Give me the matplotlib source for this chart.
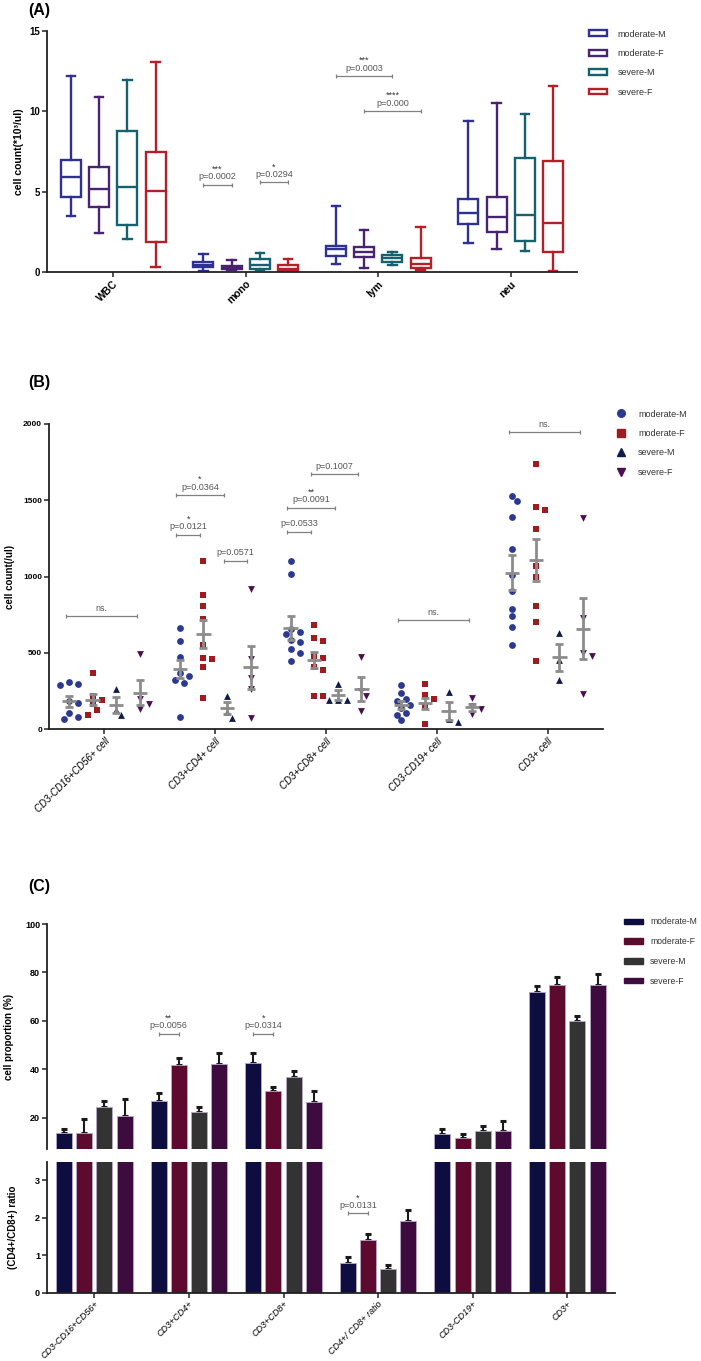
import matplotlib
matplotlib.use('Agg')
import matplotlib.pyplot as plt
from matplotlib.patches import Patch
from matplotlib.lines import Line2D
import numpy as np

plt.rcParams['font.family'] = ['Liberation Sans', 'DejaVu Sans']

W, H = 701, 1361
groups = ['moderate-M', 'moderate-F', 'severe-M', 'severe-F']
offsets = [-0.32, -0.107, 0.107, 0.32]

# ---------------- Panel A data (box plots) ----------------
a_categories = ['WBC', 'mono', 'lym', 'neu']
a_whislo = [[3.50, 0.08, 0.50, 1.79], [2.42, 0.10, 0.23, 1.42],
            [2.08, 0.10, 0.42, 1.33], [0.33, 0.02, 0.12, 0.08]]
a_q1 = [[4.69, 0.30, 1.02, 3.00], [4.02, 0.20, 0.92, 2.48],
        [2.90, 0.20, 0.63, 1.92], [1.88, 0.05, 0.27, 1.25]]
a_med = [[5.90, 0.45, 1.42, 3.65], [5.17, 0.33, 1.27, 3.40],
         [5.27, 0.44, 0.85, 3.56], [5.02, 0.17, 0.48, 3.04]]
a_q3 = [[7.00, 0.62, 1.63, 4.52], [6.54, 0.40, 1.56, 4.69],
        [8.79, 0.80, 1.06, 7.08], [7.50, 0.42, 0.90, 6.92]]
a_whishi = [[12.19, 1.13, 4.08, 9.40], [10.90, 0.77, 2.63, 10.50],
            [11.94, 1.17, 1.25, 9.85], [13.10, 0.83, 2.81, 11.56]]
a_colors = ['#2e3192', '#4a2370', '#17606e', '#b3202a']
a_brackets = [(1, 0, 1, 5.44, 'p=0.0002', '***'),
              (1, 2, 3, 5.58, 'p=0.0294', '*'),
              (2, 0, 2, 12.2, 'p=0.0003', '***'),
              (2, 1, 3, 10.0, 'p=0.000', '****')]

# ---------------- Panel B data (scatter + mean/SEM) ----------------
b_categories = ['CD3-CD16+CD56+ cell', 'CD3+CD4+ cell', 'CD3+CD8+ cell',
                'CD3-CD19+ cell', 'CD3+ cell']
b_moderate_m = [[311, 300, 290, 185, 170, 107, 83, 66],
                [662, 581, 471, 366, 351, 325, 303, 83],
                [1100, 1015, 660, 640, 625, 585, 570, 525, 500, 450],
                [290, 240, 200, 185, 160, 140, 105, 95, 60],
                [1530, 1493, 1388, 1181, 1012, 909, 791, 743, 673, 551]]
b_moderate_f = [[366, 215, 190, 165, 127, 94],
                [1100, 880, 810, 725, 555, 470, 460, 410, 205],
                [680, 599, 577, 482, 465, 408, 386, 221, 219],
                [297, 225, 197, 153, 35],
                [1738, 1456, 1438, 1314, 1073, 999, 809, 704, 446]]
b_severe_m = [[263, 127, 92],
              [219, 112, 72],
              [298, 195, 192, 190],
              [247, 68, 50],
              [634, 455, 323]]
b_severe_f = [[496, 197, 167, 136],
              [921, 460, 335, 263, 72],
              [474, 254, 219, 121],
              [207, 155, 131, 100],
              [1382, 728, 499, 481, 232]]
b_mean = [[184, 395, 664, 159, 1027], [193, 625, 452, 170, 1109],
          [162, 138, 226, 122, 472], [241, 406, 265, 145, 660]]
b_sem = [[35, 57, 79, 28, 112], [37, 93, 52, 35, 137],
         [52, 40, 33, 60, 88], [85, 140, 78, 22, 198]]
b_colors = ['#2b3990', '#9e1b20', '#0f1c4d', '#4b0f4f']
b_markers = ['o', 's', '^', 'v']
b_brackets = [(0, 0, 3, 741, 'ns.', ''),
              (1, 0, 1, 1275, 'p=0.0121', '*'),
              (1, 0, 2, 1535, 'p=0.0364', '*'),
              (1, 2, 3, 1104, 'p=0.0571', ''),
              (2, 0, 1, 1294, 'p=0.0533', ''),
              (2, 0, 2, 1452, 'p=0.0091', '**'),
              (2, 1, 3, 1670, 'p=0.1007', ''),
              (3, 0, 3, 715, 'ns.', ''),
              (4, 0, 3, 1946, 'ns.', '')]

# ---------------- Panel C data (bars, broken axis) ----------------
c_categories = ['CD3-CD16+CD56+', 'CD3+CD4+', 'CD3+CD8+', 'CD4+/ CD8+ ratio',
                'CD3-CD19+', 'CD3+']
c_mean = [[13.5, 26.8, 42.5, 0.79, 13.4, 71.8],
          [13.7, 41.9, 30.9, 1.41, 11.7, 74.8],
          [24.6, 22.4, 36.7, 0.63, 14.5, 59.9],
          [20.6, 42.2, 26.6, 1.92, 14.5, 74.9]]
c_err = [[1.9, 3.6, 4.2, 0.17, 1.9, 2.7],
         [5.6, 2.9, 1.8, 0.15, 1.4, 3.3],
         [2.3, 2.2, 2.6, 0.10, 2.1, 2.2],
         [7.3, 4.6, 4.4, 0.30, 4.1, 4.6]]
c_colors = ['#0d0e3f', '#5e0a2f', '#333333', '#3e0b3e']
c_brackets_top = [(1, 0, 1, 54.7, 'p=0.0056', '**'),
                  (2, 0, 1, 54.7, 'p=0.0314', '*')]
c_brackets_bottom = [(3, 0, 1, 2.12, 'p=0.0131', '*')]

BR_COLOR = '#808080'
TXT_COLOR = '#555555'


def style_axis(ax, fs=6.5):
    for s in ['top', 'right']:
        ax.spines[s].set_visible(False)
    for s in ['left', 'bottom']:
        ax.spines[s].set_linewidth(1.3)
        ax.spines[s].set_color('#222222')
    ax.tick_params(axis='both', length=3.5, width=1.1, color='#222222', pad=1.5)
    ax.tick_params(axis='y', labelsize=fs)
    for lab in ax.get_yticklabels():
        lab.set_fontweight('bold')


def bracket(ax, x1, x2, y, ptext, stars, fs=6.5):
    ax.plot([x1, x2], [y, y], color=BR_COLOR, lw=0.9, solid_capstyle='butt')
    ax.plot([x1, x2], [y, y], ls='none', marker='|', ms=3.5, mew=0.9,
            color=BR_COLOR)
    xm = (x1 + x2) / 2
    ax.annotate(ptext, (xm, y), xytext=(0, 2.5), textcoords='offset points',
                ha='center', va='bottom', fontsize=fs, color=TXT_COLOR)
    if stars:
        ax.annotate(stars, (xm, y), xytext=(0, 8.0), textcoords='offset points',
                    ha='center', va='bottom', fontsize=fs, color='#333333')


fig = plt.figure(figsize=(W / 100, H / 100), dpi=100)


def axes_px(left, right, top, bottom):
    return fig.add_axes([left / W, 1 - bottom / H, (right - left) / W, (bottom - top) / H])


# ================= Panel A =================
axA = axes_px(47, 577, 31, 272)
for g in range(4):
    stats = []
    for c in range(4):
        stats.append(dict(whislo=a_whislo[g][c], q1=a_q1[g][c], med=a_med[g][c],
                          q3=a_q3[g][c], whishi=a_whishi[g][c], fliers=[]))
    pos = np.arange(4) + offsets[g]
    col = a_colors[g]
    axA.bxp(stats, positions=pos, widths=0.15, capwidths=0.065, showfliers=False,
            patch_artist=True, manage_ticks=False,
            boxprops=dict(facecolor='white', edgecolor=col, linewidth=1.7),
            medianprops=dict(color=col, linewidth=1.7),
            whiskerprops=dict(color=col, linewidth=1.7),
            capprops=dict(color=col, linewidth=1.7))
axA.set_xlim(-0.5, 3.5)
axA.set_ylim(0, 15)
axA.set_yticks([0, 5, 10, 15])
axA.set_xticks(np.arange(4))
style_axis(axA, fs=7)
axA.set_xticklabels(a_categories, rotation=45, ha='right', rotation_mode='anchor',
                    fontweight='bold', fontsize=7.5)
axA.set_ylabel('cell count(*10³/ul)', fontsize=7.5, fontweight='bold', labelpad=4)
for (c, g1, g2, y, pt, st) in a_brackets:
    bracket(axA, c + offsets[g1], c + offsets[g2], y, pt, st)
hA = [Patch(facecolor='white', edgecolor=a_colors[g], linewidth=1.7, label=groups[g])
      for g in range(4)]
fig.legend(handles=hA, loc='upper left', bbox_to_anchor=(584 / W, 1 - 25 / H),
           frameon=False, fontsize=6.5, handlelength=2.1, handleheight=0.6,
           handletextpad=1.1, labelspacing=1.15, borderpad=0, labelcolor='#333333')

# ================= Panel B =================
axB = axes_px(49, 603, 424, 729.3)
ypx_unit = (729.3 - 424) / 2000.0
xpx_unit = (603 - 49) / 5.0


def swarm(vals, center, diam=7.0):
    vals = np.asarray(vals, dtype=float)
    order = np.argsort(-vals)
    placed = []
    xs = np.zeros(len(vals))
    for i in order:
        y = vals[i] * ypx_unit
        chosen = 0.0
        for k in [0, 1, -1, 2, -2, 3, -3]:
            x = k * diam * 0.65
            if all((x - px) ** 2 + (y - py) ** 2 >= (diam * 1.0) ** 2 for px, py in placed):
                chosen = x
                break
        placed.append((chosen, y))
        xs[i] = center + chosen / xpx_unit
    return xs


b_all = [b_moderate_m, b_moderate_f, b_severe_m, b_severe_f]
for g in range(4):
    for c in range(5):
        center = c + offsets[g]
        vals = b_all[g][c]
        xs = swarm(vals, center)
        axB.scatter(xs, vals, marker=b_markers[g], s=24, color=b_colors[g],
                    linewidths=0, zorder=3)
    pos = np.arange(5) + offsets[g]
    axB.errorbar(pos, b_mean[g], yerr=b_sem[g], fmt='none', ecolor='#8c8c8c',
                 elinewidth=2.0, capsize=2.8, capthick=2.0, zorder=4)
    axB.hlines(b_mean[g], pos - 0.065, pos + 0.065, colors='#8c8c8c', lw=2.0, zorder=4)
axB.set_xlim(-0.5, 4.5)
axB.set_ylim(0, 2000)
axB.set_yticks([0, 500, 1000, 1500, 2000])
axB.set_xticks(np.arange(5))
style_axis(axB, fs=6)
axB.set_xticklabels(b_categories, rotation=45, ha='right', rotation_mode='anchor',
                    fontsize=7, style='italic')
axB.set_ylabel('cell count(/ul)', fontsize=7, fontweight='bold', labelpad=6)
for (c, g1, g2, y, pt, st) in b_brackets:
    bracket(axB, c + offsets[g1] - 0.03, c + offsets[g2] - 0.03, y, pt, st)
hB = [Line2D([], [], ls='none', marker=b_markers[g], color=b_colors[g], ms=5.5,
             label=groups[g]) for g in range(4)]
fig.legend(handles=hB, loc='upper left', bbox_to_anchor=(612 / W, 1 - 405 / H),
           frameon=False, fontsize=6.5, handlelength=1.0, handletextpad=1.4,
           labelspacing=1.15, borderpad=0, labelcolor='#333333')

# ================= Panel C =================
c_low = 100 - (1149.3 - 924) / ((1117.7 - 924) / 80.0)
axCt = axes_px(47, 614.6, 924, 1149.3)
axCb = axes_px(47, 614.6, 1161.7, 1292.7)
for ax in (axCt, axCb):
    for g in range(4):
        pos = np.arange(6) + offsets[g]
        ax.bar(pos, c_mean[g], width=0.17, color=c_colors[g], edgecolor='#b8a8c8',
               linewidth=0.6, zorder=2)
        ax.errorbar(pos, c_mean[g], yerr=[np.zeros(6), c_err[g]], fmt='none',
                    ecolor='#1a1a1a', elinewidth=1.5, capsize=2.2, capthick=2.2,
                    zorder=1)
    ax.set_xlim(-0.5, 5.5)

axCt.set_ylim(c_low, 100)
axCt.set_yticks([20, 40, 60, 80, 100])
axCt.set_xticks([])
style_axis(axCt)
axCt.spines['bottom'].set_visible(False)
axCt.set_ylabel('cell proportion (%)', fontsize=7, fontweight='bold', labelpad=8)
for (c, g1, g2, y, pt, st) in c_brackets_top:
    bracket(axCt, c + offsets[g1], c + offsets[g2], y, pt, st)

axCb.set_ylim(0, 3.5)
axCb.set_yticks([0, 1, 2, 3])
axCb.set_xticks(np.arange(6))
style_axis(axCb)
axCb.set_xticklabels(c_categories, rotation=45, ha='right', rotation_mode='anchor',
                     fontsize=6.5, style='italic')
axCb.set_ylabel('(CD4+/CD8+) ratio', fontsize=7, fontweight='bold', labelpad=12)
for (c, g1, g2, y, pt, st) in c_brackets_bottom:
    bracket(axCb, c + offsets[g1], c + offsets[g2], y, pt, st)

hC = [Patch(facecolor=c_colors[g], edgecolor=c_colors[g], label=groups[g])
      for g in range(4)]
fig.legend(handles=hC, loc='upper left', bbox_to_anchor=(620 / W, 1 - 913 / H),
           frameon=False, fontsize=6.2, handlelength=2.2, handleheight=0.6,
           handletextpad=0.8, labelspacing=1.25, borderpad=0, labelcolor='#333333')

# panel labels
fig.text(28 / W, 1 - 10 / H, '(A)', fontsize=11.5, fontweight='bold', va='center', ha='left')
fig.text(28 / W, 1 - 382 / H, '(B)', fontsize=11.5, fontweight='bold', va='center', ha='left')
fig.text(28 / W, 1 - 887 / H, '(C)', fontsize=11.5, fontweight='bold', va='center', ha='left')

fig.savefig('out.png', dpi=100)
